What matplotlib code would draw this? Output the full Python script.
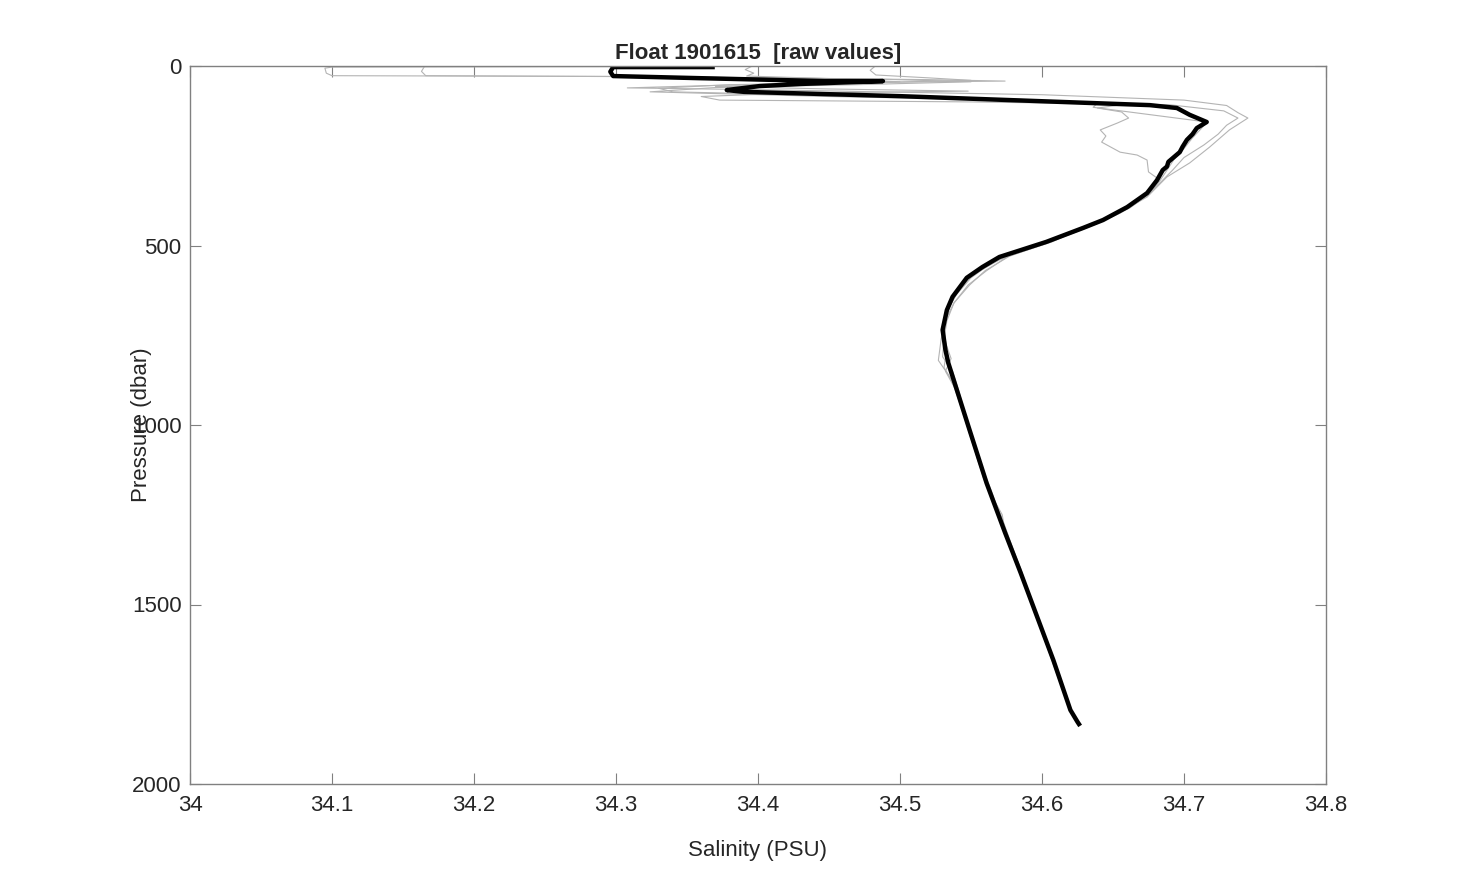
import matplotlib
matplotlib.use('Agg')
import matplotlib.pyplot as plt

plt.rcParams['font.family'] = ['Liberation Sans', 'DejaVu Sans']

# float id for the title
float_id = '1901615'

# black profile (latest cycle): pressure (dbar) and salinity (PSU)
black_p = [3, 3, 16, 28, 34, 42, 42, 50, 56, 67, 72, 84, 99, 109, 117, 136, 156, 173, 190, 206, 225, 240,
           267, 280, 290, 318, 354, 393, 429, 451, 490, 532, 560, 590, 643, 680, 735, 791, 827, 902, 1014,
           1162, 1300, 1412, 1655, 1794, 1827, 1833]
black_s = [34.368, 34.298, 34.296, 34.298, 34.360, 34.447, 34.488, 34.430, 34.401, 34.378, 34.390, 34.500,
           34.606, 34.676, 34.695, 34.704, 34.716, 34.709, 34.706, 34.702, 34.699, 34.697, 34.689, 34.688,
           34.685, 34.681, 34.674, 34.660, 34.643, 34.629, 34.603, 34.570, 34.558, 34.547, 34.537, 34.533,
           34.530, 34.532, 34.534, 34.540, 34.549, 34.561, 34.574, 34.585, 34.608, 34.620, 34.625, 34.626]

# grey profiles (earlier cycles)
g1_p = [1, 3, 6, 20, 27, 29, 38, 42, 47, 55, 61, 66, 80, 95, 110, 130, 145, 178, 226, 270, 309, 365, 409,
        448, 490, 530, 570, 610, 660, 700, 760, 820, 860, 900, 1000, 1100, 1200, 1300, 1400, 1500, 1600,
        1700, 1800]
g1_s = [34.395, 34.100, 34.095, 34.096, 34.100, 34.300, 34.520, 34.574, 34.450, 34.360, 34.308, 34.400,
        34.600, 34.700, 34.730, 34.738, 34.745, 34.732, 34.718, 34.704, 34.688, 34.674, 34.654, 34.630,
        34.607, 34.576, 34.561, 34.548, 34.538, 34.533, 34.529, 34.527, 34.534, 34.540, 34.548, 34.555,
        34.564, 34.575, 34.584, 34.593, 34.603, 34.612, 34.621]

g2_p = [2, 15, 27, 30, 36, 44, 52, 60, 72, 85, 98, 106, 117, 128, 145, 159, 178, 195, 212, 240, 248, 262,
        295, 312, 350, 390, 430, 470, 510, 550, 590, 640, 690, 740, 790, 840, 880, 950, 1050, 1150, 1250,
        1350, 1450, 1550, 1650, 1750, 1810]
g2_s = [34.165, 34.163, 34.166, 34.330, 34.480, 34.550, 34.470, 34.370, 34.324, 34.450, 34.620, 34.660,
        34.639, 34.656, 34.661, 34.653, 34.641, 34.645, 34.642, 34.655, 34.667, 34.674, 34.675, 34.681,
        34.675, 34.661, 34.643, 34.617, 34.586, 34.564, 34.550, 34.539, 34.532, 34.531, 34.533, 34.531,
        34.537, 34.543, 34.551, 34.559, 34.571, 34.580, 34.589, 34.598, 34.607, 34.617, 34.622]

g3_p = [2, 10, 20, 28, 35, 44, 52, 62, 72, 82, 92, 100, 108, 115, 156, 175, 200, 230, 260, 290, 320, 355,
        395, 435, 470, 505, 540, 580, 620, 670, 720, 770, 815, 850, 900, 980, 1080, 1180, 1280, 1380, 1480,
        1580, 1680, 1780, 1820]
g3_s = [34.395, 34.391, 34.397, 34.392, 34.450, 34.500, 34.380, 34.330, 34.340, 34.450, 34.580, 34.620,
        34.638, 34.636, 34.716, 34.712, 34.706, 34.700, 34.693, 34.688, 34.683, 34.676, 34.662, 34.641,
        34.618, 34.592, 34.570, 34.552, 34.542, 34.535, 34.531, 34.532, 34.536, 34.532, 34.539, 34.546,
        34.554, 34.564, 34.573, 34.583, 34.592, 34.600, 34.610, 34.619, 34.624]

g4_p = [2, 12, 25, 33, 40, 48, 57, 64, 70, 76, 85, 95, 100, 108, 125, 145, 165, 190, 220, 255, 290, 330,
        370, 410, 450, 490, 530, 570, 610, 660, 710, 760, 810, 850, 900, 1000, 1100, 1200, 1250, 1300,
        1400, 1500, 1600, 1700, 1790]
g4_s = [34.482, 34.479, 34.483, 34.520, 34.550, 34.460, 34.370, 34.450, 34.548, 34.420, 34.360, 34.373,
        34.550, 34.690, 34.728, 34.738, 34.730, 34.724, 34.714, 34.700, 34.692, 34.682, 34.671, 34.655,
        34.632, 34.606, 34.577, 34.560, 34.549, 34.538, 34.533, 34.531, 34.530, 34.537, 34.541, 34.548,
        34.556, 34.565, 34.572, 34.574, 34.585, 34.593, 34.602, 34.611, 34.620]

xticks = [34, 34.1, 34.2, 34.3, 34.4, 34.5, 34.6, 34.7, 34.8]
yticks = [0, 500, 1000, 1500, 2000]

fig = plt.figure(figsize=(14.65, 8.82), dpi=100)
ax = fig.add_axes([190 / 1465, 98 / 882, 1136 / 1465, 718 / 882])

# grey profiles first, then the black one on top
for s, p in [(g1_s, g1_p), (g2_s, g2_p), (g3_s, g3_p), (g4_s, g4_p)]:
    ax.plot(s, p, color='#b4b4b4', lw=0.8)
ax.plot(black_s, black_p, color='black', lw=3.2)

ax.set_xlim(34, 34.8)
ax.set_ylim(2000, 0)
ax.set_xticks(xticks)
ax.set_xticklabels(['34', '34.1', '34.2', '34.3', '34.4', '34.5', '34.6', '34.7', '34.8'])
ax.set_yticks(yticks)

for sp in ax.spines.values():
    sp.set_color('#808080')
    sp.set_linewidth(1)
ax.tick_params(direction='in', length=8, width=0.8, color='#808080', labelcolor='#262626',
               labelsize=16, top=True, right=True)
ax.tick_params(axis='x', pad=8)
ax.tick_params(axis='y', pad=6)

ax.set_xlabel('Salinity (PSU)', fontsize=16, color='#262626', va='center')
ax.xaxis.set_label_coords(0.5, -0.093)
ax.set_ylabel('Pressure (dbar)', fontsize=16, color='#262626', va='center')
ax.yaxis.set_label_coords(-0.0423, 0.5)

ax.text(0.5, 1.018, 'Float ' + float_id + '  [raw values]', transform=ax.transAxes,
        ha='center', va='center', fontsize=16, fontweight='bold', color='#262626')

fig.savefig('out.png', dpi=100)
